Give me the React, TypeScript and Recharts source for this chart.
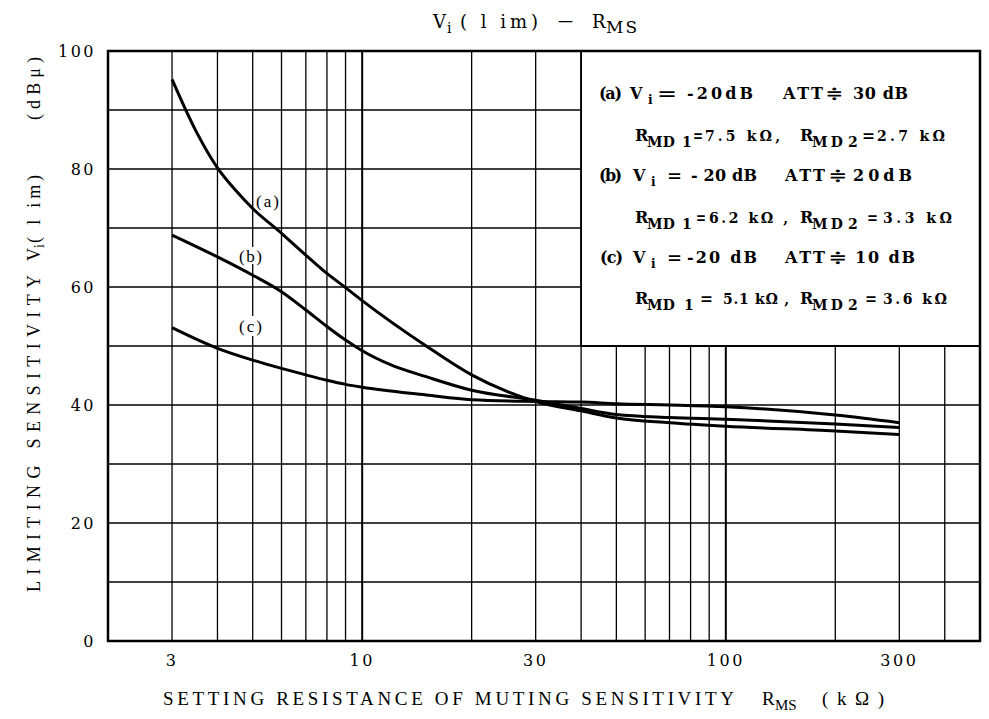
import React from 'react';
import { LineChart, Line, XAxis, YAxis, ReferenceLine, ReferenceArea } from 'recharts';

// setting resistance R_MS (kΩ) and limiting sensitivity Vi(lim) (dBμ)
const rmsA = [3, 3.5, 4, 4.5, 5, 6, 7, 8, 9, 10, 15, 20, 25, 30, 40, 50, 70, 100, 200, 300];
const curveA = [95.2, 86.3, 80.2, 76.3, 73.3, 69.1, 65.4, 62.3, 59.9, 57.7, 50.0, 45.1, 42.3, 40.6, 39.0, 37.8, 37.0, 36.4, 35.6, 35.0];
const rmsB = [3, 4, 5, 6, 7, 8, 9, 10, 12, 15, 20, 30, 40, 50, 70, 100, 200, 300];
const curveB = [68.8, 65.1, 62.0, 59.2, 56.1, 53.3, 51.0, 49.2, 46.8, 44.8, 42.5, 40.8, 39.4, 38.4, 37.9, 37.6, 36.8, 36.2];
const rmsC = [3, 4, 5, 6, 7, 8, 9, 10, 15, 20, 30, 40, 50, 70, 100, 200, 300];
const curveC = [53.1, 49.6, 47.6, 46.2, 45.1, 44.2, 43.5, 43.0, 41.7, 40.9, 40.6, 40.5, 40.2, 40.0, 39.7, 38.3, 37.0];

const xTicks = [3, 10, 30, 100, 300];
const yTicks = [0, 20, 40, 60, 80, 100];
const xGrid = [3, 4, 5, 6, 7, 8, 9, 10, 20, 30, 40, 50, 60, 70, 80, 90, 100, 200, 300, 400];
const yGrid = [10, 20, 30, 40, 50, 60, 70, 80, 90];

const TIMES = "'Liberation Serif', serif";
const WIDE = "'DejaVu Serif', serif";

const toPoints = (xs: number[], vals: number[]) => xs.map((r, i) => ({ r, v: vals[i] }));

// plain text piece, optionally forced to a width
function T({
  x, y, w, fs, ls, stretch, rot, children,
}: {
  x: number; y: number; w?: number; fs?: number; ls?: number; stretch?: boolean; rot?: boolean; children: React.ReactNode;
}) {
  const pos = rot ? { x: 0, y: 0, transform: `translate(${x},${y}) rotate(-90)` } : { x, y };
  return (
    <text
      {...pos}
      fontSize={fs}
      letterSpacing={ls}
      textLength={w}
      lengthAdjust={w ? (stretch ? 'spacingAndGlyphs' : 'spacing') : undefined}
      style={{ whiteSpace: 'pre' }}
    >
      {children}
    </text>
  );
}

function Overlay() {
  return (
    <svg
      width={989}
      height={719}
      style={{ position: 'absolute', left: 0, top: 0, pointerEvents: 'none' }}
      fontFamily={TIMES}
      fill="#000"
    >
      {/* title */}
      <g fontSize={18} fontFamily={WIDE}>
        <T x={433} y={28}>V</T>
        <T x={447} y={33} fs={14}>i</T>
        <T x={460} y={28} w={78}>( l im)</T>
        <T x={558} y={27} w={15} stretch>—</T>
        <T x={592} y={28}>R</T>
        <T x={606} y={33} fs={17} ls={2}>MS</T>
      </g>

      {/* y axis title */}
      <g fontSize={18}>
        <T rot x={40} y={592} w={317}>LIMITING SENSITIVITY</T>
        <T rot x={40} y={261}>V</T>
        <T rot x={44} y={248} fs={14}>i</T>
        <T rot x={40} y={243} w={68}>( l im)</T>
        <T rot x={40} y={120} w={63}>(dBμ)</T>
      </g>

      {/* x axis title */}
      <g fontSize={19}>
        <T x={163} y={705} w={571}>SETTING RESISTANCE OF MUTING SENSITIVITY</T>
        <T x={762} y={705}>R</T>
        <T x={775} y={710} fs={15}>MS</T>
        <T x={822} y={705} w={62}>(kΩ)</T>
      </g>

      {/* curve labels */}
      <rect x={239} y={247} width={23} height={17} fill="#fff" />
      <rect x={238} y={316} width={25} height={20} fill="#fff" />
      <g fontSize={17}>
        <T x={256} y={207} w={23}>(a)</T>
        <T x={239} y={262} w={23}>(b)</T>
        <T x={239} y={332} w={23}>(c)</T>
      </g>

      {/* legend box text */}
      <g fontSize={16} fontFamily={WIDE} fontWeight="bold">
        <T x={599} y={99} w={23}>(a)</T>
        <T x={630} y={99}>V</T>
        <T x={648} y={104} fs={12}>i</T>
        <T x={657} y={99} w={20} stretch>=</T>
        <T x={687} y={99} w={66}>-20dB</T>
        <T x={783} y={99} w={40}>ATT</T>
        <T x={825} y={99} w={18} stretch>≑</T>
        <T x={853} y={99} w={55}>30 dB</T>

        <T x={635} y={141}>R</T>
        <T x={647} y={147} fs={14} w={28}>MD</T>
        <T x={682} y={147} fs={14}>1</T>
        <T x={693} y={141} w={10} stretch>=</T>
        <T x={705} y={141} fs={14} w={75}>7.5 kΩ,</T>
        <T x={800} y={141}>R</T>
        <T x={812} y={147} fs={14} w={31}>MD</T>
        <T x={848} y={147} fs={14}>2</T>
        <T x={862} y={141} w={13} stretch>=</T>
        <T x={877} y={141} fs={14} w={68}>2.7 kΩ</T>

        <T x={599} y={181} w={23}>(b)</T>
        <T x={633} y={181}>V</T>
        <T x={651} y={186} fs={12}>i</T>
        <T x={667} y={181} w={15} stretch>=</T>
        <T x={691} y={181} w={66}>- 20 dB</T>
        <T x={785} y={181} w={40}>ATT</T>
        <T x={828} y={181} w={19} stretch>≑</T>
        <T x={853} y={181} w={59}>20dB</T>

        <T x={635} y={223}>R</T>
        <T x={647} y={229} fs={14} w={28}>MD</T>
        <T x={682} y={229} fs={14}>1</T>
        <T x={696} y={223} w={10} stretch>=</T>
        <T x={709} y={223} fs={14} w={79}>6.2 kΩ ,</T>
        <T x={800} y={223}>R</T>
        <T x={812} y={229} fs={14} w={31}>MD</T>
        <T x={848} y={229} fs={14}>2</T>
        <T x={867} y={223} w={11} stretch>=</T>
        <T x={883} y={223} fs={14} w={69}>3.3 kΩ</T>

        <T x={600} y={263} w={23}>(c)</T>
        <T x={633} y={263}>V</T>
        <T x={651} y={268} fs={12}>i</T>
        <T x={667} y={263} w={15} stretch>=</T>
        <T x={687} y={263} w={70}>-20 dB</T>
        <T x={785} y={263} w={40}>ATT</T>
        <T x={828} y={263} w={19} stretch>≑</T>
        <T x={855} y={263} w={60}>10 dB</T>

        <T x={635} y={304}>R</T>
        <T x={647} y={310} fs={14} w={28}>MD</T>
        <T x={684} y={310} fs={14}>1</T>
        <T x={700} y={304} w={13} stretch>=</T>
        <T x={723} y={304} fs={14} w={66}>5.1 kΩ ,</T>
        <T x={800} y={304}>R</T>
        <T x={812} y={310} fs={14} w={31}>MD</T>
        <T x={848} y={310} fs={14}>2</T>
        <T x={865} y={304} w={12} stretch>=</T>
        <T x={883} y={304} fs={14} w={64}>3.6 kΩ</T>
      </g>
    </svg>
  );
}

export default function App() {
  const tickStyle = { fontFamily: WIDE, fontSize: 16, fill: '#000', letterSpacing: 2.5 };
  const lineProps = { dataKey: 'v', type: 'monotone' as const, stroke: '#000', strokeWidth: 3, dot: false, isAnimationActive: false };
  return (
    <div style={{ position: 'absolute', left: 0, top: 0, width: 989, height: 719, background: '#fff' }}>
      <LineChart width={989} height={719} margin={{ top: 51, right: 9, bottom: 48, left: 48 }}>
        <XAxis
          dataKey="r"
          type="number"
          scale="log"
          domain={[2, 500]}
          ticks={xTicks}
          allowDataOverflow
          height={30}
          axisLine={false}
          tickLine={false}
          tickSize={0}
          tickMargin={14}
          tick={tickStyle}
        />
        <YAxis
          type="number"
          domain={[0, 100]}
          ticks={yTicks}
          width={60}
          axisLine={false}
          tickLine={false}
          tickSize={0}
          tickMargin={12}
          tick={tickStyle}
        />

        {xGrid.map((x) =>
          x <= 40 ? (
            <ReferenceLine key={`vx${x}`} x={x} stroke="#000" strokeWidth={x === 10 ? 2 : 1.3} />
          ) : (
            <ReferenceLine
              key={`vx${x}`}
              segment={[{ x, y: 0 }, { x, y: 50 }]}
              stroke="#000"
              strokeWidth={x === 100 ? 2 : 1.3}
            />
          )
        )}
        {yGrid.map((y) =>
          y <= 50 ? (
            <ReferenceLine key={`hy${y}`} y={y} stroke="#000" strokeWidth={1.6} />
          ) : (
            <ReferenceLine key={`hy${y}`} segment={[{ x: 2, y }, { x: 40, y }]} stroke="#000" strokeWidth={1.6} />
          )
        )}

        <ReferenceArea x1={40} x2={500} y1={50} y2={100} fill="#fff" fillOpacity={1} stroke="#000" strokeWidth={1.8} />
        <ReferenceArea x1={2} x2={500} y1={0} y2={100} fill="none" stroke="#000" strokeWidth={2.5} />

        <Line data={toPoints(rmsA, curveA)} {...lineProps} />
        <Line data={toPoints(rmsB, curveB)} {...lineProps} />
        <Line data={toPoints(rmsC, curveC)} {...lineProps} />
      </LineChart>
      <Overlay />
    </div>
  );
}
